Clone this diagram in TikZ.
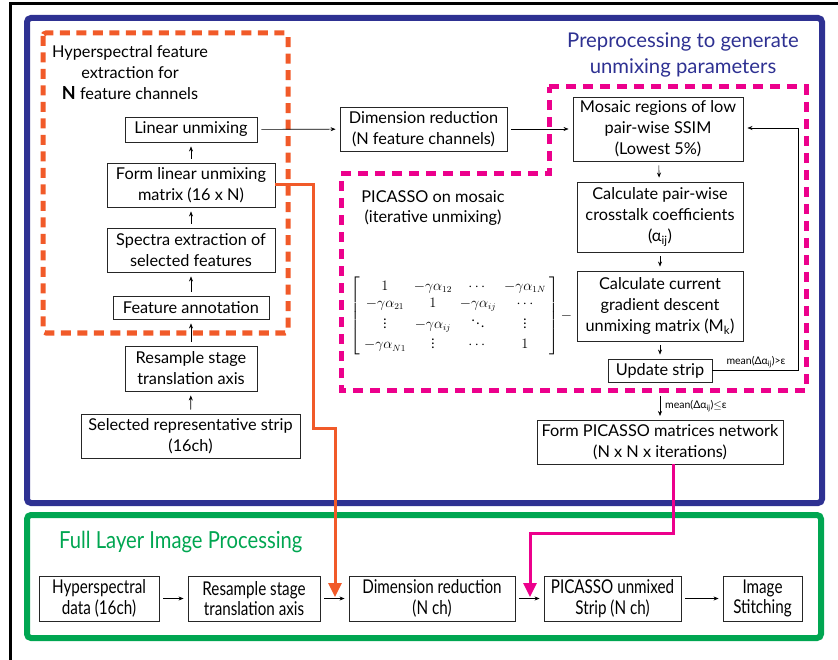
\documentclass[tikz,border=0pt]{standalone}
\usepackage{fontspec}
\setmainfont{Lato}
\newfontfamily\condfont[FakeStretch=0.8]{Lato}
\newfontfamily\titlefont[FakeStretch=0.86]{Lato}
\usepackage{amsmath}
\usetikzlibrary{arrows.meta}
\definecolor{pblue}{RGB}{46,49,146}
\definecolor{pgreen}{RGB}{0,166,81}
\definecolor{porange}{RGB}{241,90,41}
\definecolor{pmagenta}{RGB}{236,0,140}
\begin{document}
\begin{tikzpicture}[x=1pt,y=-1pt,
  box/.style={draw=black!85, line width=0.9pt, align=center, inner sep=0pt, font=\fontsize{16.3}{21}\selectfont},
  cbox/.style={draw=black!85, line width=0.9pt, align=center, inner sep=0pt, font=\condfont\fontsize{19}{20.5}\selectfont},
  arr/.style={-{Stealth[length=5pt,width=4pt]}, line width=0.6pt, shorten <=4pt, shorten >=4pt},
  small/.style={font=\fontsize{10.5}{12}\selectfont, inner sep=1pt},
  odash/.style={draw=porange, line width=5pt, dash pattern=on 10pt off 6.5pt, rounded corners=3pt},
  mdash/.style={draw=pmagenta, line width=5pt, dash pattern=on 10pt off 7pt},
  thickarr/.style={line width=3pt, -{Triangle[length=14pt,width=13pt]}}]
\useasboundingbox (0,0) rectangle (838,660);
% frame
\draw[line width=2.5pt] (838,3.5) -- (10.5,3.5) -- (10.5,660);
% group boxes
\draw[pblue, line width=6pt, rounded corners=4pt] (27,18) rectangle (822,503);
\draw[pgreen, line width=6pt, rounded corners=4pt] (27,515) rectangle (821,638);
\draw[odash] (43,33) rectangle (288,333);
\draw[mdash] (549,87) -- (806,87) -- (806,390) -- (341,390) -- (341,174) -- (549,174) -- cycle;
% titles
\node[font=\fontsize{20.3}{25.5}\selectfont, text=pblue, align=center] (ttl) at (683,55) {Preprocessing to generate\\unmixing parameters};
\node[font=\titlefont\fontsize{23.5}{24}\selectfont, text=pgreen, anchor=west, inner sep=0pt] (gttl) at (59,542) {Full Layer Image Processing};
\node[font=\fontsize{16.3}{21}\selectfont, align=center] (hft) at (130,73) {Hyperspectral feature\\extraction for\\{\fontsize{18}{21}\selectfont\bfseries N} feature channels};
\node[font=\fontsize{16.3}{20.5}\selectfont, align=center] (pic) at (433,208) {PICASSO on mosaic\\(iterative unmixing)};
% left column
\node[box, minimum width=132pt, minimum height=25pt] (lin) at (191,129.5) {Linear unmixing};
\node[box, minimum width=168pt, minimum height=44pt] (form) at (191,185) {Form linear unmixing\\matrix (16 x N)};
\node[box, minimum width=168pt, minimum height=44pt] (spec) at (191,250) {Spectra extraction of\\selected features};
\node[box, minimum width=156pt, minimum height=23pt] (feat) at (191,307.5) {Feature annotation};
\node[box, minimum width=132pt, minimum height=45pt] (resamp) at (191,368.5) {Resample stage\\translation axis};
\node[box, minimum width=219pt, minimum height=44pt] (sel) at (190.5,436) {Selected representative strip\\(16ch)};
\draw[arr] (sel) -- (resamp);
\draw[arr] (resamp) -- (feat);
\draw[arr] (feat) -- (spec);
\draw[arr] (spec) -- (form);
\draw[arr] (form) -- (lin);
% middle / right
\node[box, minimum width=167pt, minimum height=44pt] (dimr) at (423.5,129) {Dimension reduction\\(N feature channels)};
\node[box, minimum width=170pt, minimum height=64pt] (mos) at (658,129) {Mosaic regions of low\\pair-wise SSIM\\(Lowest 5\%)};
\node[box, minimum width=166pt, minimum height=70pt] (pair) at (660,217) {Calculate pair-wise\\crosstalk coefficients\\(α\textsubscript{ij})};
\node[box, minimum width=166pt, minimum height=70pt] (curr) at (660,306) {Calculate current\\gradient descent\\unmixing matrix (M\textsubscript{k})};
\node[box, minimum width=104pt, minimum height=23pt] (upd) at (660,370.5) {Update strip};
\node[box, minimum width=246pt, minimum height=44pt] (fp) at (660,442) {Form PICASSO matrices network\\(N x N x iterations)};
\draw[arr] (lin) -- (dimr);
\draw[arr] (dimr.east) -- (mos.west |- dimr.east);
\draw[arr] (mos) -- (pair);
\draw[arr] (pair) -- (curr);
\draw[arr] (curr) -- (upd);
\coordinate (fbr) at (798,370.5);
\coordinate (fbt) at (798,128);
\draw[arr, shorten <=0pt] (upd.east) -- (fbr) -- (fbt) -- (mos.east |- fbt);
\node[small, anchor=south] (lgt) at (756,369) {mean(Δα\textsubscript{ij})>ε};
\coordinate (dtop) at (660,396);
\coordinate (dbot) at (660,418);
\draw[arr, shorten <=0pt, shorten >=2pt] (dtop) -- (dbot);
\node[small, anchor=west] (lle) at (664,406) {mean(Δα\textsubscript{ij})$\leq$ε};
% matrix
\node[font=\fontsize{13.5}{15}\selectfont, inner sep=0pt] (mat) at (455,316) {$\renewcommand{\arraystretch}{1.15}\setlength{\arraycolsep}{4pt}\left[\begin{array}{cccc}
1 & -\gamma\alpha_{12} & \cdots & -\gamma\alpha_{1N}\\
-\gamma\alpha_{21} & 1 & -\gamma\alpha_{ij} & \cdots\\
\vdots & -\gamma\alpha_{ij} & \ddots & \vdots\\
-\gamma\alpha_{N1} & \vdots & \cdots & 1
\end{array}\right]$};
\node[font=\fontsize{13.5}{15}\selectfont, inner sep=1pt, anchor=west] (mns) at (mat.east) {$-$};
% bottom row
\node[cbox, minimum width=120pt, minimum height=45pt] (b1) at (99,598.5) {Hyperspectral\\data (16ch)};
\node[cbox, minimum width=132pt, minimum height=45pt] (b2) at (254,598.5) {Resample stage\\translation axis};
\node[cbox, minimum width=166pt, minimum height=45pt] (b3) at (432,598.5) {Dimension reduction\\(N ch)};
\node[cbox, minimum width=137pt, minimum height=45pt] (b4) at (612.5,598.5) {PICASSO unmixed\\Strip (N ch)};
\node[cbox, minimum width=79pt, minimum height=45pt] (b5) at (762.5,598.5) {Image\\Stitching};
\draw[arr] (b1) -- (b2);
\draw[arr] (b2) -- (b3);
\draw[arr] (b3) -- (b4);
\draw[arr] (b4) -- (b5);
% cross links
\coordinate (o1) at (313,185);
\coordinate (o2) at (313,428);
\coordinate (o3) at (335,428);
\coordinate (o4) at (335,597);
\draw[draw=porange, thickarr] (form.east) -- (o1) -- (o2) -- (o3) -- (o4);
\coordinate (m1) at (673,533);
\coordinate (m2) at (530,533);
\coordinate (m3) at (530,597);
\draw[draw=pmagenta, thickarr] (fp.south -| m1) -- (m1) -- (m2) -- (m3);
\end{tikzpicture}
\end{document}
